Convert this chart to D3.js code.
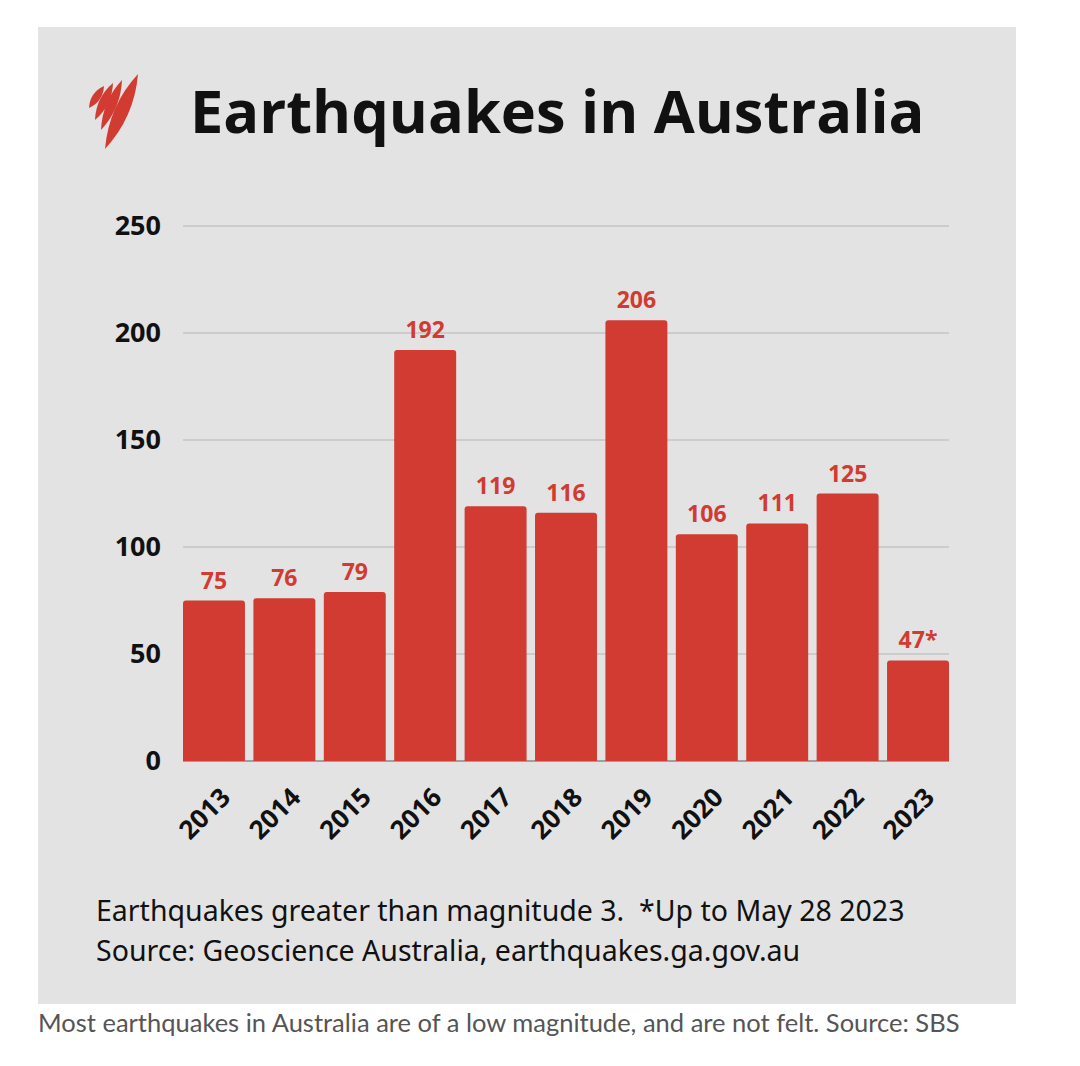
<!DOCTYPE html>
<html>
<head>
<meta charset="utf-8">
<script src="https://cdn.jsdelivr.net/npm/d3@7"></script>
<style>
  body { margin: 0; background: #fff; }
  svg { display: block; }
</style>
</head>
<body>
<div id="chart"></div>
<script>
// earthquake counts, magnitude > 3
const years = ['2013', '2014', '2015', '2016', '2017', '2018', '2019', '2020', '2021', '2022', '2023'];
const counts = [75, 76, 79, 192, 119, 116, 206, 106, 111, 125, 47];
const valueLabels = ['75', '76', '79', '192', '119', '116', '206', '106', '111', '125', '47*'];
const yTicks = [0, 50, 100, 150, 200, 250];

const W = 1080, H = 1066;
const red = '#d13b31';

const svg = d3.select('#chart').append('svg')
  .attr('width', W)
  .attr('height', H);

// grey card
svg.append('rect')
  .attr('x', 38).attr('y', 27)
  .attr('width', 978).attr('height', 977)
  .attr('fill', '#e3e3e3');

// logo: a few overlapping leaf strokes
function leaf(x0, y0, x1, y1, w) {
  let mx = (x0 + x1) / 2, my = (y0 + y1) / 2;
  let dx = x1 - x0, dy = y1 - y0, len = Math.hypot(dx, dy);
  let nx = -dy / len * w, ny = dx / len * w;
  return 'M' + x0 + ',' + y0 + 'Q' + (mx + nx) + ',' + (my + ny) + ' ' + x1 + ',' + y1 +
    'Q' + (mx - nx) + ',' + (my - ny) + ' ' + x0 + ',' + y0 + 'Z';
}
const logo = svg.append('g').attr('fill', red);
[[105, 149, 138, 74, 14], [101, 130, 122, 80, 10], [95, 120, 113, 83, 9], [89, 108, 104, 86, 8]]
  .forEach(s => logo.append('path').attr('d', leaf(...s)));

svg.append('text')
  .attr('x', 190).attr('y', 133)
  .attr('font-family', 'Open Sans, sans-serif')
  .attr('font-weight', 700)
  .attr('font-size', 59.5)
  .attr('fill', '#111')
  .text('Earthquakes in Australia');

const margin = {left: 183, right: 949, top: 226, bottom: 761};

let x = d3.scaleBand()
  .domain(years)
  .range([margin.left, margin.right])
  .paddingInner(0.12)
  .paddingOuter(0);

let y = d3.scaleLinear()
  .domain([0, 250])
  .range([margin.bottom, margin.top]);

// gridlines
svg.append('g')
  .selectAll('line')
  .data(yTicks)
  .enter().append('line')
  .attr('x1', margin.left)
  .attr('x2', margin.right)
  .attr('y1', d => y(d))
  .attr('y2', d => y(d))
  .attr('stroke', d => d === 0 ? '#888' : '#c4c4c4')
  .attr('stroke-width', 1.3);

// y axis labels
let yAxis = svg.append('g')
  .attr('transform', 'translate(' + (margin.left - 22) + ',0)')
  .call(d3.axisLeft(y).tickValues(yTicks).tickSize(0).tickPadding(0));
yAxis.select('.domain').remove();
yAxis.selectAll('text')
  .attr('font-family', 'Open Sans, sans-serif')
  .attr('font-weight', 700)
  .attr('font-size', 27)
  .attr('fill', '#111');

// bars with slight top rounding
const r = 3;
svg.append('g')
  .selectAll('path')
  .data(counts)
  .enter().append('path')
  .attr('fill', red)
  .attr('d', (d, i) => {
    let x0 = x(years[i]), x1 = x0 + x.bandwidth();
    let y0 = y(d), y1 = y(0);
    return 'M' + x0 + ',' + y1 + 'V' + (y0 + r) + 'Q' + x0 + ',' + y0 + ' ' + (x0 + r) + ',' + y0 +
      'H' + (x1 - r) + 'Q' + x1 + ',' + y0 + ' ' + x1 + ',' + (y0 + r) + 'V' + y1 + 'Z';
  });

// value labels
svg.append('g')
  .selectAll('text')
  .data(counts)
  .enter().append('text')
  .attr('x', (d, i) => x(years[i]) + x.bandwidth() / 2)
  .attr('y', d => y(d) - 12)
  .attr('text-anchor', 'middle')
  .attr('font-family', 'Open Sans, sans-serif')
  .attr('font-weight', 700)
  .attr('font-size', 23)
  .attr('fill', red)
  .text((d, i) => valueLabels[i]);

// x axis labels
let xAxis = svg.append('g')
  .attr('transform', 'translate(0,' + margin.bottom + ')')
  .call(d3.axisBottom(x).tickSize(0).tickPadding(0));
xAxis.select('.domain').remove();
xAxis.selectAll('text')
  .attr('font-family', 'Open Sans, sans-serif')
  .attr('font-weight', 700)
  .attr('font-size', 26)
  .attr('fill', '#111')
  .attr('text-anchor', 'end')
  .attr('dy', null)
  .attr('y', 0)
  .attr('transform', 'translate(18,38) rotate(-45)');

// footnotes
const notes = ['Earthquakes greater than magnitude 3.  *Up to May 28 2023',
  'Source: Geoscience Australia, earthquakes.ga.gov.au'];
svg.append('g')
  .selectAll('text')
  .data(notes)
  .enter().append('text')
  .attr('x', 96)
  .attr('y', (d, i) => 921 + i * 40)
  .attr('font-family', 'Noto Sans, sans-serif')
  .attr('font-size', 28.5)
  .attr('fill', '#111')
  .attr('xml:space', 'preserve')
  .style('white-space', 'pre')
  .text(d => d);

svg.append('text')
  .attr('x', 38).attr('y', 1032)
  .attr('font-family', 'Lato, sans-serif')
  .attr('font-size', 25.5)
  .attr('fill', '#555')
  .text('Most earthquakes in Australia are of a low magnitude, and are not felt. Source: SBS');
</script>
</body>
</html>
